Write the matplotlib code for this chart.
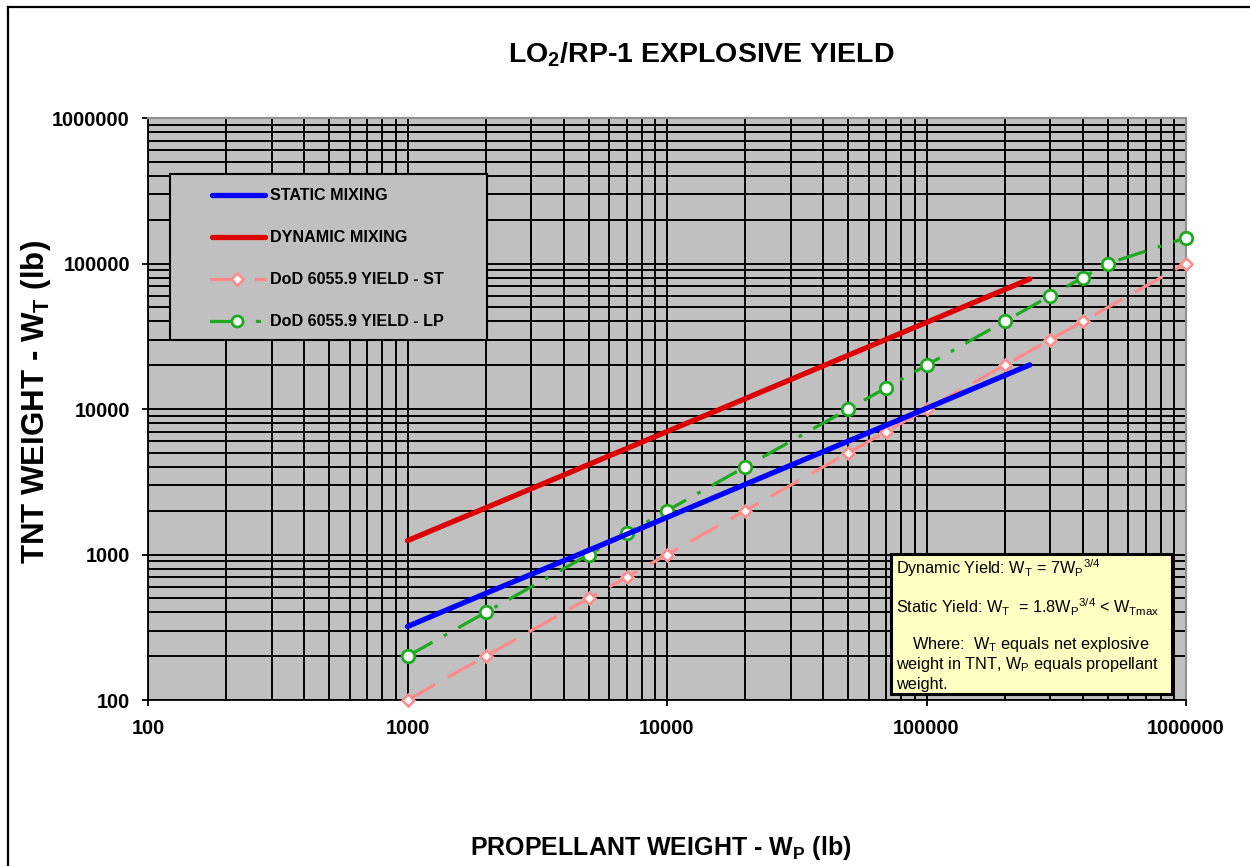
import matplotlib
matplotlib.use("Agg")
import matplotlib.pyplot as plt
from matplotlib.ticker import FixedLocator, FixedFormatter, LogLocator, NullFormatter
from matplotlib.lines import Line2D
from matplotlib.patches import Rectangle

plt.rcParams['font.family'] = ['Liberation Sans', 'DejaVu Sans']
plt.rcParams['mathtext.fontset'] = 'custom'
plt.rcParams['mathtext.rm'] = 'Liberation Sans'
plt.rcParams['mathtext.it'] = 'Liberation Sans:italic'
plt.rcParams['mathtext.bf'] = 'Liberation Sans:bold'

# ---------------- data ----------------
static_x = [1000, 2000, 5000, 10000, 20000, 50000, 100000, 150000, 200000, 250000]
static_y = [320, 540, 1070, 1800, 3030, 6020, 10100, 13700, 17000, 20100]

dynamic_x = [1000, 2000, 5000, 10000, 20000, 50000, 100000, 150000, 200000, 250000]
dynamic_y = [1245, 2090, 4160, 7000, 11770, 23410, 39360, 53360, 66200, 78260]

st_x = [1000, 2000, 5000, 7000, 10000, 20000, 50000, 70000, 100000, 200000, 300000, 400000, 1000000]
st_y = [100, 200, 500, 700, 1000, 2000, 5000, 7000, 10000, 20000, 30000, 40000, 100000]

lp_x = [1000, 2000, 5000, 7000, 10000, 20000, 50000, 70000, 100000, 200000, 300000, 400000, 500000, 1000000]
lp_y = [200, 400, 1000, 1400, 2000, 4000, 10000, 14000, 20000, 40000, 60000, 80000, 100000, 150000]

x_ticks = [100, 1000, 10000, 100000, 1000000]
x_tick_labels = ['100', '1000', '10000', '100000', '1000000']
y_ticks = [100, 1000, 10000, 100000, 1000000]
y_tick_labels = ['100', '1000', '10000', '100000', '1000000']

series_names = ['STATIC MIXING', 'DYNAMIC MIXING', 'DoD 6055.9 YIELD - ST', 'DoD 6055.9 YIELD - LP']

title_text = r'LO$_\mathbf{2}$/RP-1 EXPLOSIVE YIELD'
xlabel_text = r'PROPELLANT WEIGHT - W$_\mathbf{P}$ (lb)'
ylabel_text = r'TNT WEIGHT - W$_\mathbf{T}$ (lb)'

note_lines = [
    r'Dynamic Yield: W$_\mathrm{T}$ = 7W$_\mathrm{P}$$^\mathrm{3/4}$',
    r'Static Yield: W$_\mathrm{T}$  = 1.8W$_\mathrm{P}$$^\mathrm{3/4}$ < W$_\mathrm{Tmax}$',
    r'Where:  W$_\mathrm{T}$ equals net explosive',
    r'weight in TNT, W$_\mathrm{P}$ equals propellant',
    r'weight.',
]

# ---------------- styles ----------------
BLUE = '#0000FF'
RED = '#DD0000'
PINK = '#FF8A8A'
GREEN = '#1EAA1E'

W, H = 1250, 866
fig = plt.figure(figsize=(W / 100, H / 100), dpi=100)
fig.patch.set_facecolor('white')

def fx(px):
    return px / W

def fy(py):
    return 1 - py / H

ax = fig.add_axes([fx(148), fy(700), (1186 - 148) / W, (700 - 118) / H])
ax.set_facecolor('#C0C0C0')
ax.set_xscale('log')
ax.set_yscale('log')
ax.set_xlim(100, 1000000)
ax.set_ylim(100, 1000000)

ax.xaxis.set_major_locator(FixedLocator(x_ticks))
ax.xaxis.set_major_formatter(FixedFormatter(x_tick_labels))
ax.yaxis.set_major_locator(FixedLocator(y_ticks))
ax.yaxis.set_major_formatter(FixedFormatter(y_tick_labels))
ax.xaxis.set_minor_locator(LogLocator(base=10, subs=range(2, 10)))
ax.yaxis.set_minor_locator(LogLocator(base=10, subs=range(2, 10)))
ax.xaxis.set_minor_formatter(NullFormatter())
ax.yaxis.set_minor_formatter(NullFormatter())

ax.set_axisbelow(True)
ax.grid(True, which='both', color='black', linewidth=1.4)
ax.tick_params(which='minor', length=0)
ax.tick_params(which='major', direction='out', length=4, width=1.3, color='black')
ax.tick_params(axis='x', pad=10, labelsize=14.3)
ax.tick_params(axis='y', pad=9, labelsize=14.3)
for lab in ax.get_xticklabels() + ax.get_yticklabels():
    lab.set_fontweight('bold')

for side in ['top', 'right']:
    ax.spines[side].set_color('#909090')
    ax.spines[side].set_linewidth(1.5)
for side in ['left', 'bottom']:
    ax.spines[side].set_color('black')
    ax.spines[side].set_linewidth(1.3)

# ---------------- series ----------------
ax.plot(static_x, static_y, color=BLUE, lw=3.8, solid_capstyle='round', zorder=4)
ax.plot(dynamic_x, dynamic_y, color=RED, lw=3.8, solid_capstyle='round', zorder=4)
ax.plot(st_x, st_y, color=PINK, lw=2.3, dashes=(10, 4.5), marker='D', ms=6.5,
        mfc='white', mec=PINK, mew=1.8, zorder=3, clip_on=False)
ax.plot(lp_x, lp_y, color=GREEN, lw=2.3, dashes=(9, 4, 1.2, 4), marker='o', ms=9,
        mfc='white', mec=GREEN, mew=2, zorder=3, clip_on=False)

# ---------------- legend (manual) ----------------
fig.add_artist(Rectangle((fx(170), fy(340)), fx(487) - fx(170), fy(174) - fy(340),
                         transform=fig.transFigure, facecolor='#C0C0C0',
                         edgecolor='black', lw=1.5, zorder=5))
rows = [195, 237, 279, 321]
fig.add_artist(Line2D([fx(212), fx(265)], [fy(rows[0])] * 2, transform=fig.transFigure,
                      color=BLUE, lw=3.8, solid_capstyle='round', zorder=6))
fig.add_artist(Line2D([fx(212), fx(265)], [fy(rows[1])] * 2, transform=fig.transFigure,
                      color=RED, lw=3.8, solid_capstyle='round', zorder=6))
fig.add_artist(Line2D([fx(211), fx(237)], [fy(rows[2])] * 2, transform=fig.transFigure,
                      color=PINK, lw=2.3, zorder=6))
fig.add_artist(Line2D([fx(256), fx(265)], [fy(rows[2])] * 2, transform=fig.transFigure,
                      color=PINK, lw=2.3, zorder=6))
fig.add_artist(Line2D([fx(237)], [fy(rows[2])], transform=fig.transFigure, marker='D', ms=6.5,
                      mfc='white', mec=PINK, mew=1.8, lw=0, zorder=7))
fig.add_artist(Line2D([fx(211), fx(237)], [fy(rows[3])] * 2, transform=fig.transFigure,
                      color=GREEN, lw=2.3, zorder=6))
fig.add_artist(Line2D([fx(257), fx(259)], [fy(rows[3])] * 2, transform=fig.transFigure,
                      color=GREEN, lw=2.3, zorder=6))
fig.add_artist(Line2D([fx(237)], [fy(rows[3])], transform=fig.transFigure, marker='o', ms=8,
                      mfc='white', mec=GREEN, mew=2, lw=0, zorder=7))
for name, r in zip(series_names, rows):
    fig.text(fx(270), fy(r), name, fontsize=11.6, fontweight='bold', va='center', ha='left',
             zorder=8)

# ---------------- note box ----------------
fig.add_artist(Rectangle((fx(891), fy(694)), fx(1172) - fx(891), fy(554) - fy(694),
                         transform=fig.transFigure, facecolor='#FFFFC4',
                         edgecolor='black', lw=2.2, zorder=5))
note_pos = [(896, 568), (896, 607), (912, 645), (896, 665), (896, 684)]
for txt, (px, py) in zip(note_lines, note_pos):
    fig.text(fx(px), fy(py), txt, fontsize=11.7, va='center', ha='left', zorder=8)

# ---------------- titles ----------------
fig.text(fx(701), fy(55), title_text, fontsize=20.5, fontweight='bold', ha='center', va='center')
fig.text(fx(661), fy(848), xlabel_text, fontsize=18, fontweight='bold', ha='center', va='center')
fig.text(fx(36), fy(402), ylabel_text, fontsize=22.5, fontweight='bold', ha='center', va='center',
         rotation=90)

# outer frame (top and left)
fig.add_artist(Line2D([fx(8), fx(1250)], [fy(7), fy(7)], transform=fig.transFigure,
                      color='black', lw=1.6))
fig.add_artist(Line2D([fx(8), fx(8)], [fy(7), fy(866)], transform=fig.transFigure,
                      color='black', lw=1.6))

fig.savefig('out.png', dpi=100)
